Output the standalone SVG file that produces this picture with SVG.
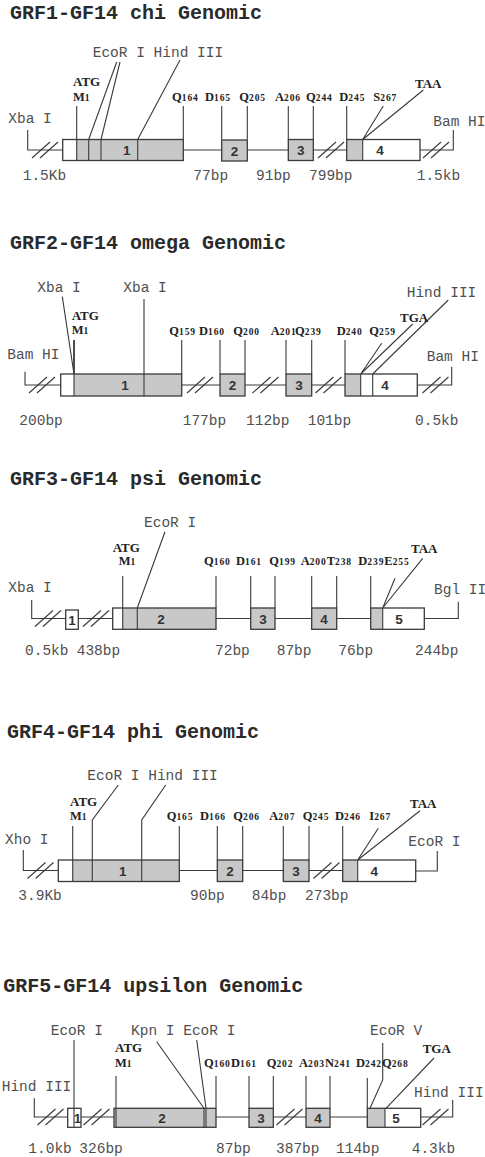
<svg xmlns="http://www.w3.org/2000/svg" xmlns:xlink="http://www.w3.org/1999/xlink" width="485" height="1157" viewBox="0 0 485 1157">
<style>
.ttl{font-family:"Liberation Mono",monospace;font-size:20px;font-weight:bold;fill:#2a2a2a}
.re{font-family:"Liberation Mono",monospace;font-size:14.5px;fill:#505050}
.aa{font-family:"Liberation Serif",serif;font-size:12.5px;font-weight:bold;fill:#222}
.aa .n{font-size:9.5px;letter-spacing:0.9px}
.atg{font-family:"Liberation Serif",serif;font-size:13px;font-weight:bold;fill:#222}
.ex{font-family:"Liberation Sans",sans-serif;font-size:13.5px;font-weight:bold;fill:#333;text-anchor:middle}
.g{fill:#c8c8c8;stroke:none}
.w{fill:#fff;stroke:none}
.o{fill:none;stroke:#3a3a3a;stroke-width:1.3}
.ln{fill:none;stroke:#3a3a3a;stroke-width:1.1}
</style>
<defs>
<g id="brk" class="ln"><line x1="-13" y1="8" x2="5" y2="-8"/><line x1="-5" y1="8" x2="13" y2="-8"/></g>
</defs>
<rect width="485" height="1157" fill="#fff"/>

<!-- ===== Panel 1 ===== -->
<g id="p1">
<text class="ttl" x="10" y="19">GRF1-GF14 chi Genomic</text>
<g id="p1-connectors" class="ln">
<path d="M27.7 130V150H62.7M183.3 150H221.7M247.3 150H288.3M313.3 150H346.7M420 150H453.3V130"/>
<use xlink:href="#brk" x="45" y="150"/><use xlink:href="#brk" x="331" y="150"/><use xlink:href="#brk" x="436" y="150"/>
<path d="M76.7 106V139.5M183.3 106V139.5M221.7 106V139.5M247.3 106V139.5M288.3 106V139.5M313.3 106V139.5M346.7 106V139.5"/>
<path d="M383.3 106L362.7 139.5M423.3 90L362.7 139.5M116.7 62L88.7 139.5M120 62L101 139.5M180 60L137.7 139.5"/>
</g>
<g id="p1-ex1"><rect class="w" x="62.7" y="139.5" width="14" height="21"/><rect class="g" x="76.7" y="139.5" width="106.6" height="21"/><path class="ln" d="M76.7 139.5V160.5M88.7 139.5V160.5M101 139.5V160.5M137.7 139.5V160.5"/><rect class="o" x="62.7" y="139.5" width="120.6" height="21"/><text class="ex" x="126.7" y="155">1</text></g>
<g id="p1-ex2"><rect class="g" x="221.7" y="140" width="25.6" height="21"/><rect class="o" x="221.7" y="140" width="25.6" height="21"/><text class="ex" x="234.5" y="155.5">2</text></g>
<g id="p1-ex3"><rect class="g" x="288.3" y="139.5" width="25" height="21"/><rect class="o" x="288.3" y="139.5" width="25" height="21"/><text class="ex" x="300.8" y="155">3</text></g>
<g id="p1-ex4"><rect class="g" x="346.7" y="139.5" width="16" height="21"/><rect class="w" x="362.7" y="139.5" width="57.3" height="21"/><path class="ln" d="M362.7 139.5V160.5"/><rect class="o" x="346.7" y="139.5" width="73.3" height="21"/><text class="ex" x="380" y="155">4</text></g>
<g id="p1-labels">
<text class="re" x="92.7" y="56.7">EcoR I Hind III</text>
<text class="re" x="8.3" y="123">Xba I</text>
<text class="re" x="433.3" y="125.7">Bam HI</text>
<text class="re" x="22.7" y="180">1.5Kb</text>
<text class="re" x="193.3" y="180">77bp</text>
<text class="re" x="256" y="180">91bp</text>
<text class="re" x="309" y="180">799bp</text>
<text class="re" x="416.7" y="180">1.5kb</text>
<text class="atg" x="73" y="86">ATG</text>
<text class="aa" x="73" y="101">M<tspan class="n">1</tspan></text>
<text class="aa" x="172" y="101">Q<tspan class="n">164</tspan></text>
<text class="aa" x="205" y="101">D<tspan class="n">165</tspan></text>
<text class="aa" x="239.3" y="101">Q<tspan class="n">205</tspan></text>
<text class="aa" x="275" y="101">A<tspan class="n">206</tspan></text>
<text class="aa" x="306" y="101">Q<tspan class="n">244</tspan></text>
<text class="aa" x="339.3" y="101">D<tspan class="n">245</tspan></text>
<text class="aa" x="373.3" y="101">S<tspan class="n">267</tspan></text>
<text class="atg" x="415" y="88.3">TAA</text>
</g>
</g>

<!-- ===== Panel 2 ===== -->
<g id="p2">
<text class="ttl" x="10" y="249">GRF2-GF14 omega Genomic</text>
<g id="p2-connectors" class="ln">
<path d="M25 371.7V385H60.7M181.7 385H220M245 385H286M311.7 385H345M417.3 385H451.7V366.7"/>
<use xlink:href="#brk" x="42" y="385"/><use xlink:href="#brk" x="200" y="385"/><use xlink:href="#brk" x="265.5" y="385"/><use xlink:href="#brk" x="328.5" y="385"/><use xlink:href="#brk" x="435.5" y="385"/>
<path d="M181.7 340V374M220 340V374M245 340V374M286 340V374M311.7 340V374M345 340V374"/>
<path d="M381.7 343.3L360.7 374M412.7 324L360.7 374M448.3 300L372.7 374M62.3 296.7L74 374M144 299V374"/>
<path d="M74 340V374" stroke-width="1.8"/>
</g>
<g id="p2-ex1"><rect class="w" x="60.7" y="374" width="13.3" height="22"/><rect class="g" x="74" y="374" width="107.7" height="22"/><path class="ln" d="M144 374V396"/><path class="ln" stroke-width="1.8" d="M74 374V396"/><rect class="o" x="60.7" y="374" width="121" height="22"/><text class="ex" x="125" y="390">1</text></g>
<g id="p2-ex2"><rect class="g" x="220" y="374" width="25" height="22"/><rect class="o" x="220" y="374" width="25" height="22"/><text class="ex" x="232.5" y="390">2</text></g>
<g id="p2-ex3"><rect class="g" x="286" y="374" width="25.7" height="22"/><rect class="o" x="286" y="374" width="25.7" height="22"/><text class="ex" x="299" y="390">3</text></g>
<g id="p2-ex4"><rect class="g" x="345" y="374" width="15.7" height="22"/><rect class="w" x="360.7" y="374" width="56.6" height="22"/><path class="ln" d="M360.7 374V396M372.7 374V396"/><rect class="o" x="345" y="374" width="72.3" height="22"/><text class="ex" x="385" y="390">4</text></g>
<g id="p2-labels">
<text class="re" x="37.3" y="291.7">Xba I</text>
<text class="re" x="123.3" y="291.7">Xba I</text>
<text class="re" x="7.3" y="359.3">Bam HI</text>
<text class="re" x="426.7" y="360.7">Bam HI</text>
<text class="re" x="406.7" y="296.7">Hind III</text>
<text class="re" x="19.3" y="425">200bp</text>
<text class="re" x="182.7" y="425">177bp</text>
<text class="re" x="246" y="425">112bp</text>
<text class="re" x="307.7" y="425">101bp</text>
<text class="re" x="415" y="425">0.5kb</text>
<text class="atg" x="71.7" y="320">ATG</text>
<text class="aa" x="71.7" y="334">M<tspan class="n">1</tspan></text>
<text class="aa" x="169.3" y="335">Q<tspan class="n">159</tspan></text>
<text class="aa" x="199" y="335">D<tspan class="n">160</tspan></text>
<text class="aa" x="233.3" y="335">Q<tspan class="n">200</tspan></text>
<text class="aa" x="270.7" y="335">A<tspan class="n">201</tspan></text>
<text class="aa" x="295" y="335">Q<tspan class="n">239</tspan></text>
<text class="aa" x="336.7" y="335">D<tspan class="n">240</tspan></text>
<text class="aa" x="369.3" y="335">Q<tspan class="n">259</tspan></text>
<text class="atg" x="400" y="321.7">TGA</text>
</g>
</g>

<!-- ===== Panel 3 ===== -->
<g id="p3">
<text class="ttl" x="10" y="485">GRF3-GF14 psi Genomic</text>
<g id="p3-connectors" class="ln">
<path d="M31.7 600V618.5H65.7M78.3 618.5H112.7M216 618.5H250.7M275 618.5H311.7M336.7 618.5H370.7M424.3 618.5H458.3V601.7"/>
<use xlink:href="#brk" x="48" y="618.5"/><use xlink:href="#brk" x="96" y="618.5"/>
<path d="M122.7 576V608M216 576V608M250.7 576V608M275 576V608M311.7 576V608M336.7 576V608M370.7 576V608"/>
<path d="M395 578.3L382.7 608M422.7 558.3L382.7 608M165 531.7L137.3 608"/>
</g>
<g id="p3-ex1"><rect class="w" x="65.7" y="610" width="12.6" height="19.3"/><rect class="o" x="65.7" y="610" width="12.6" height="19.3"/><text class="ex" x="72" y="624.5">1</text></g>
<g id="p3-ex2"><rect class="w" x="112.7" y="608" width="10" height="21.3"/><rect class="g" x="122.7" y="608" width="93.3" height="21.3"/><path class="ln" d="M122.7 608V629.3M137.3 608V629.3"/><rect class="o" x="112.7" y="608" width="103.3" height="21.3"/><text class="ex" x="161" y="623.5">2</text></g>
<g id="p3-ex3"><rect class="g" x="250.7" y="608" width="24.3" height="21.3"/><rect class="o" x="250.7" y="608" width="24.3" height="21.3"/><text class="ex" x="263" y="623.5">3</text></g>
<g id="p3-ex4"><rect class="g" x="311.7" y="608" width="25" height="21.3"/><rect class="o" x="311.7" y="608" width="25" height="21.3"/><text class="ex" x="324" y="623.5">4</text></g>
<g id="p3-ex5"><rect class="g" x="370.7" y="608" width="12" height="21.3"/><rect class="w" x="382.7" y="608" width="41.6" height="21.3"/><path class="ln" d="M382.7 608V629.3"/><rect class="o" x="370.7" y="608" width="53.6" height="21.3"/><text class="ex" x="399" y="623.5">5</text></g>
<g id="p3-labels">
<text class="re" x="8.3" y="591.7">Xba I</text>
<text class="re" x="144" y="526.7">EcoR I</text>
<text class="re" x="434" y="594">Bgl II</text>
<text class="re" x="25" y="655">0.5kb</text>
<text class="re" x="76.7" y="655">438bp</text>
<text class="re" x="215" y="655">72bp</text>
<text class="re" x="276.7" y="655">87bp</text>
<text class="re" x="338.3" y="655">76bp</text>
<text class="re" x="415" y="655">244bp</text>
<text class="atg" x="112.7" y="551.7">ATG</text>
<text class="aa" x="118.7" y="565">M<tspan class="n">1</tspan></text>
<text class="aa" x="204" y="565">Q<tspan class="n">160</tspan></text>
<text class="aa" x="236" y="565">D<tspan class="n">161</tspan></text>
<text class="aa" x="269.3" y="565">Q<tspan class="n">199</tspan></text>
<text class="aa" x="300.7" y="565">A<tspan class="n">200</tspan>T<tspan class="n">238</tspan></text>
<text class="aa" x="358.3" y="565">D<tspan class="n">239</tspan>E<tspan class="n">255</tspan></text>
<text class="atg" x="411" y="553.3">TAA</text>
</g>
</g>

<!-- ===== Panel 4 ===== -->
<g id="p4">
<text class="ttl" x="7" y="738.3">GRF4-GF14 phi Genomic</text>
<g id="p4-connectors" class="ln">
<path d="M23.3 850V870.5H58.3M179.3 870.5H217.3M242.7 870.5H283.3M309 870.5H342.7M415.7 871H437.3V851"/>
<use xlink:href="#brk" x="40.5" y="870.5"/><use xlink:href="#brk" x="326.5" y="870.5"/>
<path d="M72.7 826V860M179.3 826V860M217.3 826V860M242.7 826V860M283.3 826V860M309 826V860M342.7 826V860"/>
<path d="M378.3 828.3L357.7 860M420 810.7L357.7 860M118.3 785L92.3 820V860M165.7 785L141.7 820V860"/>
</g>
<g id="p4-ex1"><rect class="w" x="58.3" y="860" width="14.4" height="21.5"/><rect class="g" x="72.7" y="860" width="106.6" height="21.5"/><path class="ln" d="M72.7 860V881.5M92.3 860V881.5M141.7 860V881.5"/><rect class="o" x="58.3" y="860" width="121" height="21.5"/><text class="ex" x="122.7" y="875.5">1</text></g>
<g id="p4-ex2"><rect class="g" x="217.3" y="860" width="25.4" height="21.5"/><rect class="o" x="217.3" y="860" width="25.4" height="21.5"/><text class="ex" x="230" y="875.5">2</text></g>
<g id="p4-ex3"><rect class="g" x="283.3" y="860" width="25.7" height="21.5"/><rect class="o" x="283.3" y="860" width="25.7" height="21.5"/><text class="ex" x="296" y="875.5">3</text></g>
<g id="p4-ex4"><rect class="g" x="342.7" y="860" width="15" height="21.5"/><rect class="w" x="357.7" y="860" width="58" height="21.5"/><path class="ln" d="M357.7 860V881.5"/><rect class="o" x="342.7" y="860" width="73" height="21.5"/><text class="ex" x="374.3" y="875.5">4</text></g>
<g id="p4-labels">
<text class="re" x="87.3" y="780">EcoR I Hind III</text>
<text class="re" x="5" y="844">Xho I</text>
<text class="re" x="408.3" y="846">EcoR I</text>
<text class="re" x="18.3" y="900">3.9Kb</text>
<text class="re" x="190" y="900">90bp</text>
<text class="re" x="251.7" y="900">84bp</text>
<text class="re" x="305" y="900">273bp</text>
<text class="atg" x="70" y="806">ATG</text>
<text class="aa" x="70" y="820">M<tspan class="n">1</tspan></text>
<text class="aa" x="166.7" y="820">Q<tspan class="n">165</tspan></text>
<text class="aa" x="200" y="820">D<tspan class="n">166</tspan></text>
<text class="aa" x="233.3" y="820">Q<tspan class="n">206</tspan></text>
<text class="aa" x="269.3" y="820">A<tspan class="n">207</tspan></text>
<text class="aa" x="302.7" y="820">Q<tspan class="n">245</tspan></text>
<text class="aa" x="335" y="820">D<tspan class="n">246</tspan></text>
<text class="aa" x="369.3" y="820">I<tspan class="n">267</tspan></text>
<text class="atg" x="410" y="808.3">TAA</text>
</g>
</g>

<!-- ===== Panel 5 ===== -->
<g id="p5">
<text class="ttl" x="3.3" y="991.7">GRF5-GF14 upsilon Genomic</text>
<g id="p5-connectors" class="ln">
<path d="M34.3 1098.3V1117H67.7M81 1117H114M216 1117H249M273.3 1117H306M330 1117H367.3M420.7 1117H452.7V1100"/>
<use xlink:href="#brk" x="50.5" y="1117"/><use xlink:href="#brk" x="96.5" y="1117"/><use xlink:href="#brk" x="289.5" y="1117"/><use xlink:href="#brk" x="435.5" y="1117"/>
<path d="M116 1076V1108.3M216 1076V1108.3M249 1076V1108.3M273.3 1076V1108.3M306 1076V1108.3M330 1076V1108.3M367.3 1078V1108.3"/>
<path d="M156.7 1041.7L204 1108.3M196.7 1040L206 1108.3M382.7 1043V1080L370 1108.3M434 1058L386 1108.3M74 1040V1108.3"/>
</g>
<g id="p5-ex1"><rect class="w" x="67.7" y="1108.3" width="13.3" height="19"/><path class="ln" d="M74 1108.3V1127.3"/><rect class="o" x="67.7" y="1108.3" width="13.3" height="19"/><text class="ex" x="77.5" y="1122.5">1</text></g>
<g id="p5-ex2"><rect class="g" x="114" y="1108.3" width="102" height="19"/><path class="ln" d="M116 1108.3V1127.3M204 1108.3V1127.3M206 1108.3V1127.3"/><rect class="o" x="114" y="1108.3" width="102" height="19"/><text class="ex" x="162" y="1122.5">2</text></g>
<g id="p5-ex3"><rect class="g" x="249" y="1108.3" width="24.3" height="19"/><rect class="o" x="249" y="1108.3" width="24.3" height="19"/><text class="ex" x="261" y="1122.5">3</text></g>
<g id="p5-ex4"><rect class="g" x="306" y="1108.3" width="24" height="19"/><rect class="o" x="306" y="1108.3" width="24" height="19"/><text class="ex" x="318" y="1122.5">4</text></g>
<g id="p5-ex5"><rect class="g" x="367.3" y="1108.3" width="17.7" height="19"/><rect class="w" x="385" y="1108.3" width="35.7" height="19"/><path class="ln" d="M385 1108.3V1127.3"/><rect class="o" x="367.3" y="1108.3" width="53.4" height="19"/><text class="ex" x="396" y="1122.5">5</text></g>
<g id="p5-labels">
<text class="re" x="50.7" y="1035">EcoR I</text>
<text class="re" x="131" y="1035">Kpn I EcoR I</text>
<text class="re" x="370" y="1035">EcoR V</text>
<text class="re" x="1.7" y="1090.7">Hind III</text>
<text class="re" x="414" y="1097.3">Hind III</text>
<text class="re" x="28.3" y="1153">1.0kb</text>
<text class="re" x="79.3" y="1153">326bp</text>
<text class="re" x="216" y="1153">87bp</text>
<text class="re" x="276" y="1153">387bp</text>
<text class="re" x="336" y="1153">114bp</text>
<text class="re" x="411.7" y="1153">4.3kb</text>
<text class="atg" x="115" y="1051.7">ATG</text>
<text class="aa" x="115" y="1066.7">M<tspan class="n">1</tspan></text>
<text class="aa" x="204" y="1066.7">Q<tspan class="n">160</tspan></text>
<text class="aa" x="231" y="1066.7">D<tspan class="n">161</tspan></text>
<text class="aa" x="266.7" y="1066.7">Q<tspan class="n">202</tspan></text>
<text class="aa" x="299" y="1066.7">A<tspan class="n">203</tspan>N<tspan class="n">241</tspan></text>
<text class="aa" x="356" y="1066.7">D<tspan class="n">242</tspan>Q<tspan class="n">268</tspan></text>
<text class="atg" x="422.7" y="1053.3">TGA</text>
</g>
</g>
</svg>
